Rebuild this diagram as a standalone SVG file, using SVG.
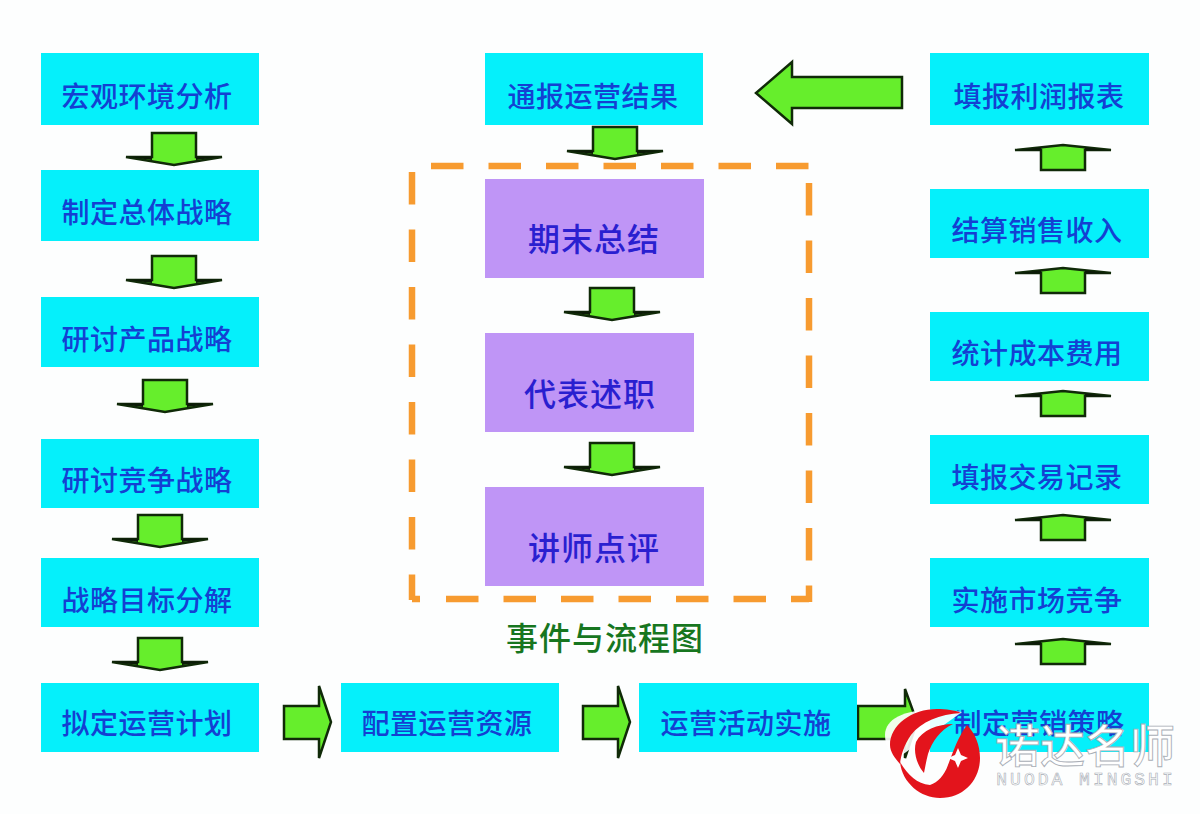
<svg xmlns="http://www.w3.org/2000/svg" width="1200" height="814" viewBox="0 0 1200 814">
<style>
.bg{fill:#fdfefe}
.c{fill:#05f0fb}
.p{fill:#bf95f6}
.t{font-family:"Noto Sans CJK SC","Liberation Sans",sans-serif;font-weight:500;text-anchor:middle;fill:#1440d2;font-size:28px;letter-spacing:.5px}
.tp{font-size:32px;fill:#2a1fd0;letter-spacing:1px}
.tg{fill:#17761f;font-size:32px;letter-spacing:1px}
.a{fill:#66ee2c;stroke:#102a08;stroke-width:2.5;stroke-linejoin:miter}
.d{fill:none;stroke:#f79b30;stroke-width:6.5;stroke-dasharray:32.5 25}
.wm{font-family:"Noto Sans CJK SC","Liberation Sans",sans-serif;fill:#fff;stroke:#a9aeb6;stroke-width:.9;text-anchor:middle}
</style>
<defs>
<g id="dn"><path class="a" d="M-22,0H22V24H48L0,32L-48,24H-22Z"/><path d="M22,23.500H48L22,27ZM-22,23.500H-48L-22,27Z" fill="#0c1a08"/></g>
<g id="up"><path class="a" d="M-22,25H22V5H48L0,0L-48,5H-22Z"/><path d="M22,5.500H48L22,2.500ZM-22,5.500H-48L-22,2.500Z" fill="#0c1a08"/></g>
<path id="rt" class="a" d="M0,20H35V0L47,36L35,72V53H0Z"/>
</defs>
<rect class="bg" width="1200" height="814"/>
<g id="frame">
<line class="d" x1="431" y1="166" x2="809" y2="166"/>
<line class="d" x1="809" y1="183" x2="809" y2="602"/>
<line class="d" x1="809" y1="599" x2="446" y2="599" stroke-dashoffset="14.500"/>
<line class="d" x1="412" y1="172" x2="412" y2="600"/>
<line class="d" x1="412" y1="599" x2="420" y2="599" style="stroke-dasharray:none"/>
</g>
<g id="connectors">
<use href="#dn" x="174" y="133"/><use href="#dn" x="174" y="256"/><use href="#dn" x="165" y="380"/><use href="#dn" x="160" y="515"/><use href="#dn" x="160" y="638"/>
<use href="#dn" x="615" y="127"/><use href="#dn" x="612" y="288"/><use href="#dn" x="612" y="443"/>
<use href="#up" x="1063" y="145"/><use href="#up" x="1063" y="268"/><use href="#up" x="1063" y="391"/><use href="#up" x="1063" y="515"/><use href="#up" x="1063" y="639"/>
<use href="#rt" x="284" y="686"/><use href="#rt" x="583" y="686"/>
<path class="a" d="M858,706H905V689L917,722L905,758V739H858Z"/>
<path class="a" d="M902,77H792V62L756,93L792,124V108H902Z"/>
</g>
<g id="n1"><rect class="c" x="41" y="53" width="218" height="72"/><text class="t" x="147" y="107">宏观环境分析</text></g>
<g id="n2"><rect class="c" x="41" y="170" width="218" height="71"/><text class="t" x="147" y="223">制定总体战略</text></g>
<g id="n3"><rect class="c" x="41" y="297" width="218" height="70"/><text class="t" x="147" y="350">研讨产品战略</text></g>
<g id="n4"><rect class="c" x="41" y="439" width="218" height="69"/><text class="t" x="147" y="491">研讨竞争战略</text></g>
<g id="n5"><rect class="c" x="41" y="558" width="218" height="69"/><text class="t" x="147" y="611">战略目标分解</text></g>
<g id="n6"><rect class="c" x="41" y="683" width="218" height="69"/><text class="t" x="147" y="734">拟定运营计划</text></g>
<g id="n7"><rect class="c" x="341" y="683" width="218" height="69"/><text class="t" x="447" y="734">配置运营资源</text></g>
<g id="n8"><rect class="c" x="639" y="683" width="218" height="69"/><text class="t" x="746" y="734">运营活动实施</text></g>
<g id="n9"><rect class="c" x="930" y="683" width="219" height="69"/><text class="t" x="1039" y="734">制定营销策略</text></g>
<g id="n10"><rect class="c" x="930" y="558" width="219" height="69"/><text class="t" x="1037" y="611">实施市场竞争</text></g>
<g id="n11"><rect class="c" x="930" y="435" width="219" height="69"/><text class="t" x="1037" y="488">填报交易记录</text></g>
<g id="n12"><rect class="c" x="930" y="312" width="219" height="69"/><text class="t" x="1037" y="364">统计成本费用</text></g>
<g id="n13"><rect class="c" x="930" y="189" width="219" height="69"/><text class="t" x="1037" y="241">结算销售收入</text></g>
<g id="n14"><rect class="c" x="930" y="53" width="219" height="72"/><text class="t" x="1039" y="107">填报利润报表</text></g>
<g id="n15"><rect class="c" x="485" y="53" width="218" height="72"/><text class="t" x="593" y="107">通报运营结果</text></g>
<g id="n16"><rect class="p" x="485" y="179" width="219" height="99"/><text class="t tp" x="594" y="251">期末总结</text></g>
<g id="n17"><rect class="p" x="485" y="333" width="209" height="99"/><text class="t tp" x="590" y="406">代表述职</text></g>
<g id="n18"><rect class="p" x="485" y="487" width="219" height="99"/><text class="t tp" x="594" y="560">讲师点评</text></g>
<text class="t tg" x="605" y="650">事件与流程图</text>
<g id="logo">
<path d="M885,735C885,715 915,705 962,712L895,760C890,755 885,745 885,735Z" fill="#fff" opacity=".9"/>
<path d="M900,762C902,783 921,798 940,798C964,798 980,780 980,758C980,745 975,733 967,725C958,737 953,752 948,765C944,776 938,782 930,785C917,784 908,775 900,762Z" fill="#e3141c"/>
<path d="M890,745C890,725 912,709 937,709C946,709 955,710 961,713C940,714 921,722 911,735C904,745 901,755 900,764C895,758 890,752 890,745Z" fill="#e3141c"/>
<path d="M953,724C940,730 932,742 928,754C926,762 925,768 924,773C917,765 913,752 916,742C922,730 938,724 953,724Z" fill="#e3141c"/>
<path d="M958,748L961,755L968,758L961,761L958,768L955,761L948,758L955,755Z" fill="#fff"/>
<text class="wm" x="1085" y="763" font-size="45" font-weight="500" textLength="180">诺达名师</text>
<text class="wm" x="1086" y="785" font-size="18" style="stroke-width:.6;letter-spacing:3px;font-family:'Liberation Mono',monospace">NUODA MINGSHI</text>
</g>
</svg>
